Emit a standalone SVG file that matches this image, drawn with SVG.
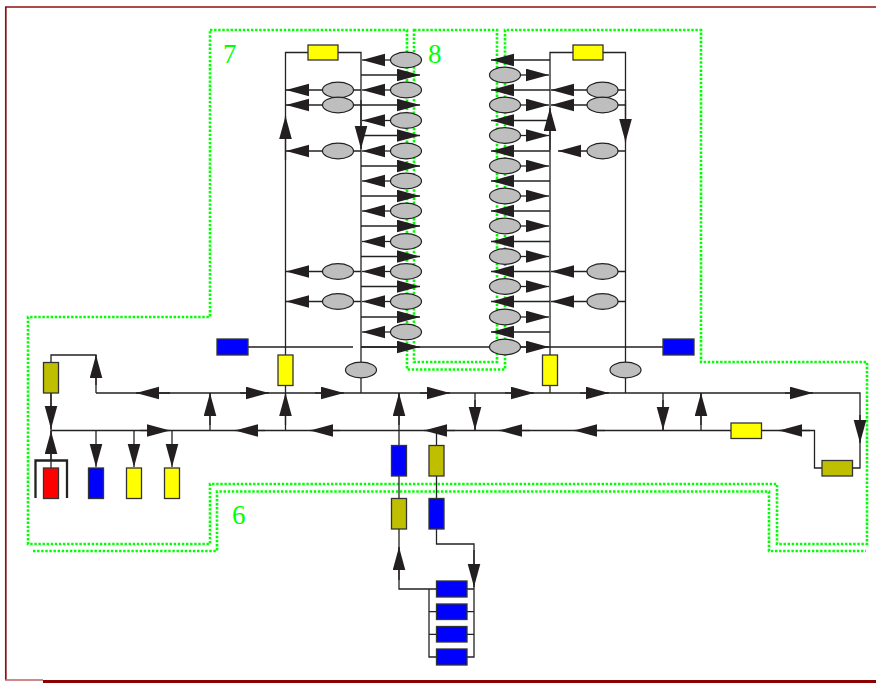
<svg xmlns="http://www.w3.org/2000/svg" width="876" height="683" viewBox="0 0 876 683">
<style>
.w{fill:none;stroke:#222;stroke-width:1.3}
.a{marker-end:url(#h)}
.g{fill:none;stroke:#0f0;stroke-width:2.6;stroke-dasharray:2.400 1.700}
.b{stroke:#333;stroke-width:1.3}
.bl{fill:#00f}.y{fill:#ff0}.o{fill:#bfbf00}.r{fill:#f00}
.e{fill:#bebebe;stroke:#222;stroke-width:1.2}
.t{font:27px "Liberation Serif",serif;fill:#0f0}
</style>
<defs><marker id="h" markerUnits="userSpaceOnUse" markerWidth="24" markerHeight="14" refX="23" refY="6.500" orient="auto"><path d="M0 .2L23 6.500L0 12.800Z" fill="#231f20"/></marker></defs>
<rect width="876" height="683" fill="#fff"/>
<path id="frame" d="M876 7H5.800V680" fill="none" stroke="#8b1010" stroke-width="1.700"/>
<path d="M5 680H43" fill="none" stroke="#c06060" stroke-width="1.500"/>
<path d="M43 681.500H876" fill="none" stroke="#8b0000" stroke-width="3"/>
<g id="zones">
<path class="g" d="M210 30H407V369.500H505V30H701V362H867V544H777V484H210V544H28V317H210Z"/>
<path class="g" d="M414 30H497V362H414Z"/>
<path class="g" d="M33 551H217V491.500H769V551H866"/>
<text class="t" x="223" y="62.500">7</text>
<text class="t" x="428" y="62.500">8</text>
<text class="t" x="232" y="524">6</text>
</g>
<g id="connectors">
<path class="w" d="M285.500 355V52.500H361V363M550 355V52.500H625.500V363M248 347H353M361 347H550M550 347H663M285.500 385V393M550 385V393M361 378V393M625.500 378V393M96 393H860V468H852M822 468H814.500V430.500H762M731 430.500H51M51 362V355H96V393M51 393V431M51 431V468M210 393V430.500M285.500 393V430.500M399 393V445M399 476V498M399 529V589H436M436.500 430.500V445M436.500 476V498M436.500 529V544H474V657H467M429 589V657H436M429 611.700H436M429 634.300H436M467 589H474M467 611.700H474M467 634.300H474M475 393V430.500M663 393V430.500M701 393V430.500"/>
<path class="w a" d="M391 60H362"/><path class="w a" d="M391 90H362"/><path class="w a" d="M391 120.500H362"/><path class="w a" d="M391 151H362"/><path class="w a" d="M391 181H362"/><path class="w a" d="M391 211H362"/><path class="w a" d="M391 241.500H362"/><path class="w a" d="M391 271.500H362"/><path class="w a" d="M391 301.500H362"/><path class="w a" d="M391 332H362"/>
<path class="w a" d="M361 75H420"/><path class="w a" d="M361 105H420"/><path class="w a" d="M361 135.500H420"/><path class="w a" d="M361 166H420"/><path class="w a" d="M361 196H420"/><path class="w a" d="M361 226H420"/><path class="w a" d="M361 256.500H420"/><path class="w a" d="M361 286.500H420"/><path class="w a" d="M361 317H420"/><path class="w a" d="M361 347H420"/>
<path class="w a" d="M361 90H286"/><path class="w a" d="M361 105H286"/><path class="w a" d="M361 151H286"/><path class="w a" d="M361 271.500H286"/><path class="w a" d="M361 301.500H286"/>
<path class="w a" d="M361 100V149"/><path class="w a" d="M285.500 160V116"/>
<path class="w a" d="M550 60H491"/><path class="w a" d="M550 90H491"/><path class="w a" d="M550 120.500H491"/><path class="w a" d="M550 151H491"/><path class="w a" d="M550 181H491"/><path class="w a" d="M550 211H491"/><path class="w a" d="M550 241.500H491"/><path class="w a" d="M550 271.500H491"/><path class="w a" d="M550 301.500H491"/><path class="w a" d="M550 332H491"/>
<path class="w a" d="M520 75H549"/><path class="w a" d="M520 105H549"/><path class="w a" d="M520 135.500H549"/><path class="w a" d="M520 166H549"/><path class="w a" d="M520 196H549"/><path class="w a" d="M520 226H549"/><path class="w a" d="M520 256.500H549"/><path class="w a" d="M520 286.500H549"/><path class="w a" d="M520 317H549"/><path class="w a" d="M520 347H549"/>
<path class="w a" d="M625.500 90H551"/><path class="w a" d="M625.500 105H551"/><path class="w a" d="M625.500 151H558"/><path class="w a" d="M625.500 271.500H551"/><path class="w a" d="M625.500 301.500H551"/>
<path class="w a" d="M625.500 100V142"/><path class="w a" d="M550 150V108"/>
<path class="w a" d="M170 393H136"/><path class="w a" d="M240 393H269"/><path class="w a" d="M315 393H344"/><path class="w a" d="M420 393H450"/><path class="w a" d="M505 393H534"/><path class="w a" d="M580 393H609"/><path class="w a" d="M785 393H813"/>
<path class="w a" d="M140 430.500H170"/><path class="w a" d="M265 430.500H235"/><path class="w a" d="M340 430.500H310"/><path class="w a" d="M455 430.500H424"/><path class="w a" d="M530 430.500H499"/><path class="w a" d="M605 430.500H574"/><path class="w a" d="M810 430.500H779"/>
<path class="w a" d="M210 425V393"/><path class="w a" d="M285.500 425V393"/><path class="w a" d="M399 425V393"/><path class="w a" d="M701 425V393"/>
<path class="w a" d="M475 400V430"/><path class="w a" d="M663 400V430"/><path class="w a" d="M860 415V443"/>
<path class="w a" d="M96 385V355"/><path class="w a" d="M51 393V429"/><path class="w a" d="M51 460V431"/>
<path class="w a" d="M96 430.500V467"/><path class="w a" d="M134 430.500V467"/><path class="w a" d="M172 430.500V467"/>
<path class="w a" d="M399 580V547"/><path class="w a" d="M474 550V587"/>
<path d="M35.500 498V460.500H67V498" fill="none" stroke="#222" stroke-width="2.300"/>
</g>
<g id="n1"><rect class="b y" x="308" y="45" width="30" height="15"/></g>
<g id="n2"><rect class="b y" x="573" y="45" width="30" height="15"/></g>
<g id="n3"><ellipse class="e" cx="406" cy="60" rx="15.500" ry="7.800"/></g>
<g id="n4"><ellipse class="e" cx="406" cy="90" rx="15.500" ry="7.800"/></g>
<g id="n5"><ellipse class="e" cx="406" cy="120.500" rx="15.500" ry="7.800"/></g>
<g id="n6"><ellipse class="e" cx="406" cy="151" rx="15.500" ry="7.800"/></g>
<g id="n7"><ellipse class="e" cx="406" cy="181" rx="15.500" ry="7.800"/></g>
<g id="n8"><ellipse class="e" cx="406" cy="211" rx="15.500" ry="7.800"/></g>
<g id="n9"><ellipse class="e" cx="406" cy="241.500" rx="15.500" ry="7.800"/></g>
<g id="n10"><ellipse class="e" cx="406" cy="271.500" rx="15.500" ry="7.800"/></g>
<g id="n11"><ellipse class="e" cx="406" cy="301.500" rx="15.500" ry="7.800"/></g>
<g id="n12"><ellipse class="e" cx="406" cy="332" rx="15.500" ry="7.800"/></g>
<g id="n13"><ellipse class="e" cx="338" cy="90" rx="15.500" ry="7.800"/></g>
<g id="n14"><ellipse class="e" cx="338" cy="105" rx="15.500" ry="7.800"/></g>
<g id="n15"><ellipse class="e" cx="338" cy="151" rx="15.500" ry="7.800"/></g>
<g id="n16"><ellipse class="e" cx="338" cy="271.500" rx="15.500" ry="7.800"/></g>
<g id="n17"><ellipse class="e" cx="338" cy="301.500" rx="15.500" ry="7.800"/></g>
<g id="n18"><ellipse class="e" cx="361" cy="370" rx="15.500" ry="7.800"/></g>
<g id="n19"><ellipse class="e" cx="505" cy="75" rx="15.500" ry="7.800"/></g>
<g id="n20"><ellipse class="e" cx="505" cy="105" rx="15.500" ry="7.800"/></g>
<g id="n21"><ellipse class="e" cx="505" cy="135.500" rx="15.500" ry="7.800"/></g>
<g id="n22"><ellipse class="e" cx="505" cy="166" rx="15.500" ry="7.800"/></g>
<g id="n23"><ellipse class="e" cx="505" cy="196" rx="15.500" ry="7.800"/></g>
<g id="n24"><ellipse class="e" cx="505" cy="226" rx="15.500" ry="7.800"/></g>
<g id="n25"><ellipse class="e" cx="505" cy="256.500" rx="15.500" ry="7.800"/></g>
<g id="n26"><ellipse class="e" cx="505" cy="286.500" rx="15.500" ry="7.800"/></g>
<g id="n27"><ellipse class="e" cx="505" cy="317" rx="15.500" ry="7.800"/></g>
<g id="n28"><ellipse class="e" cx="505" cy="347" rx="15.500" ry="7.800"/></g>
<g id="n29"><ellipse class="e" cx="602.500" cy="90" rx="15.500" ry="7.800"/></g>
<g id="n30"><ellipse class="e" cx="602.500" cy="105" rx="15.500" ry="7.800"/></g>
<g id="n31"><ellipse class="e" cx="602.500" cy="151" rx="15.500" ry="7.800"/></g>
<g id="n32"><ellipse class="e" cx="602.500" cy="271.500" rx="15.500" ry="7.800"/></g>
<g id="n33"><ellipse class="e" cx="602.500" cy="301.500" rx="15.500" ry="7.800"/></g>
<g id="n34"><ellipse class="e" cx="625.500" cy="370" rx="15.500" ry="7.800"/></g>
<g id="n35"><rect class="b bl" x="217" y="339" width="31" height="16"/></g>
<g id="n36"><rect class="b bl" x="663" y="339" width="31" height="16"/></g>
<g id="n37"><rect class="b y" x="278" y="355" width="15" height="30.500"/></g>
<g id="n38"><rect class="b y" x="542.500" y="355" width="15" height="30.500"/></g>
<g id="n39"><rect class="b o" x="43.500" y="362.500" width="15" height="30.500"/></g>
<g id="n40"><rect class="b r" x="43.500" y="468" width="15" height="30.500"/></g>
<g id="n41"><rect class="b bl" x="88.500" y="468" width="15" height="30.500"/></g>
<g id="n42"><rect class="b y" x="126.500" y="468" width="15" height="30.500"/></g>
<g id="n43"><rect class="b y" x="164.500" y="468" width="15" height="30.500"/></g>
<g id="n44"><rect class="b bl" x="391.500" y="445.500" width="15" height="30.500"/></g>
<g id="n45"><rect class="b o" x="429" y="445.500" width="15" height="30.500"/></g>
<g id="n46"><rect class="b o" x="391.500" y="498.500" width="15" height="30.500"/></g>
<g id="n47"><rect class="b bl" x="429" y="498.500" width="15" height="30.500"/></g>
<g id="n48"><rect class="b y" x="731" y="423" width="30.500" height="15.500"/></g>
<g id="n49"><rect class="b o" x="822" y="460.500" width="30.500" height="15.500"/></g>
<g id="n50"><rect class="b bl" x="436.500" y="581" width="30.500" height="16"/></g>
<g id="n51"><rect class="b bl" x="436.500" y="604" width="30.500" height="15.500"/></g>
<g id="n52"><rect class="b bl" x="436.500" y="626.500" width="30.500" height="15.500"/></g>
<g id="n53"><rect class="b bl" x="436.500" y="649" width="30.500" height="16"/></g>
</svg>
